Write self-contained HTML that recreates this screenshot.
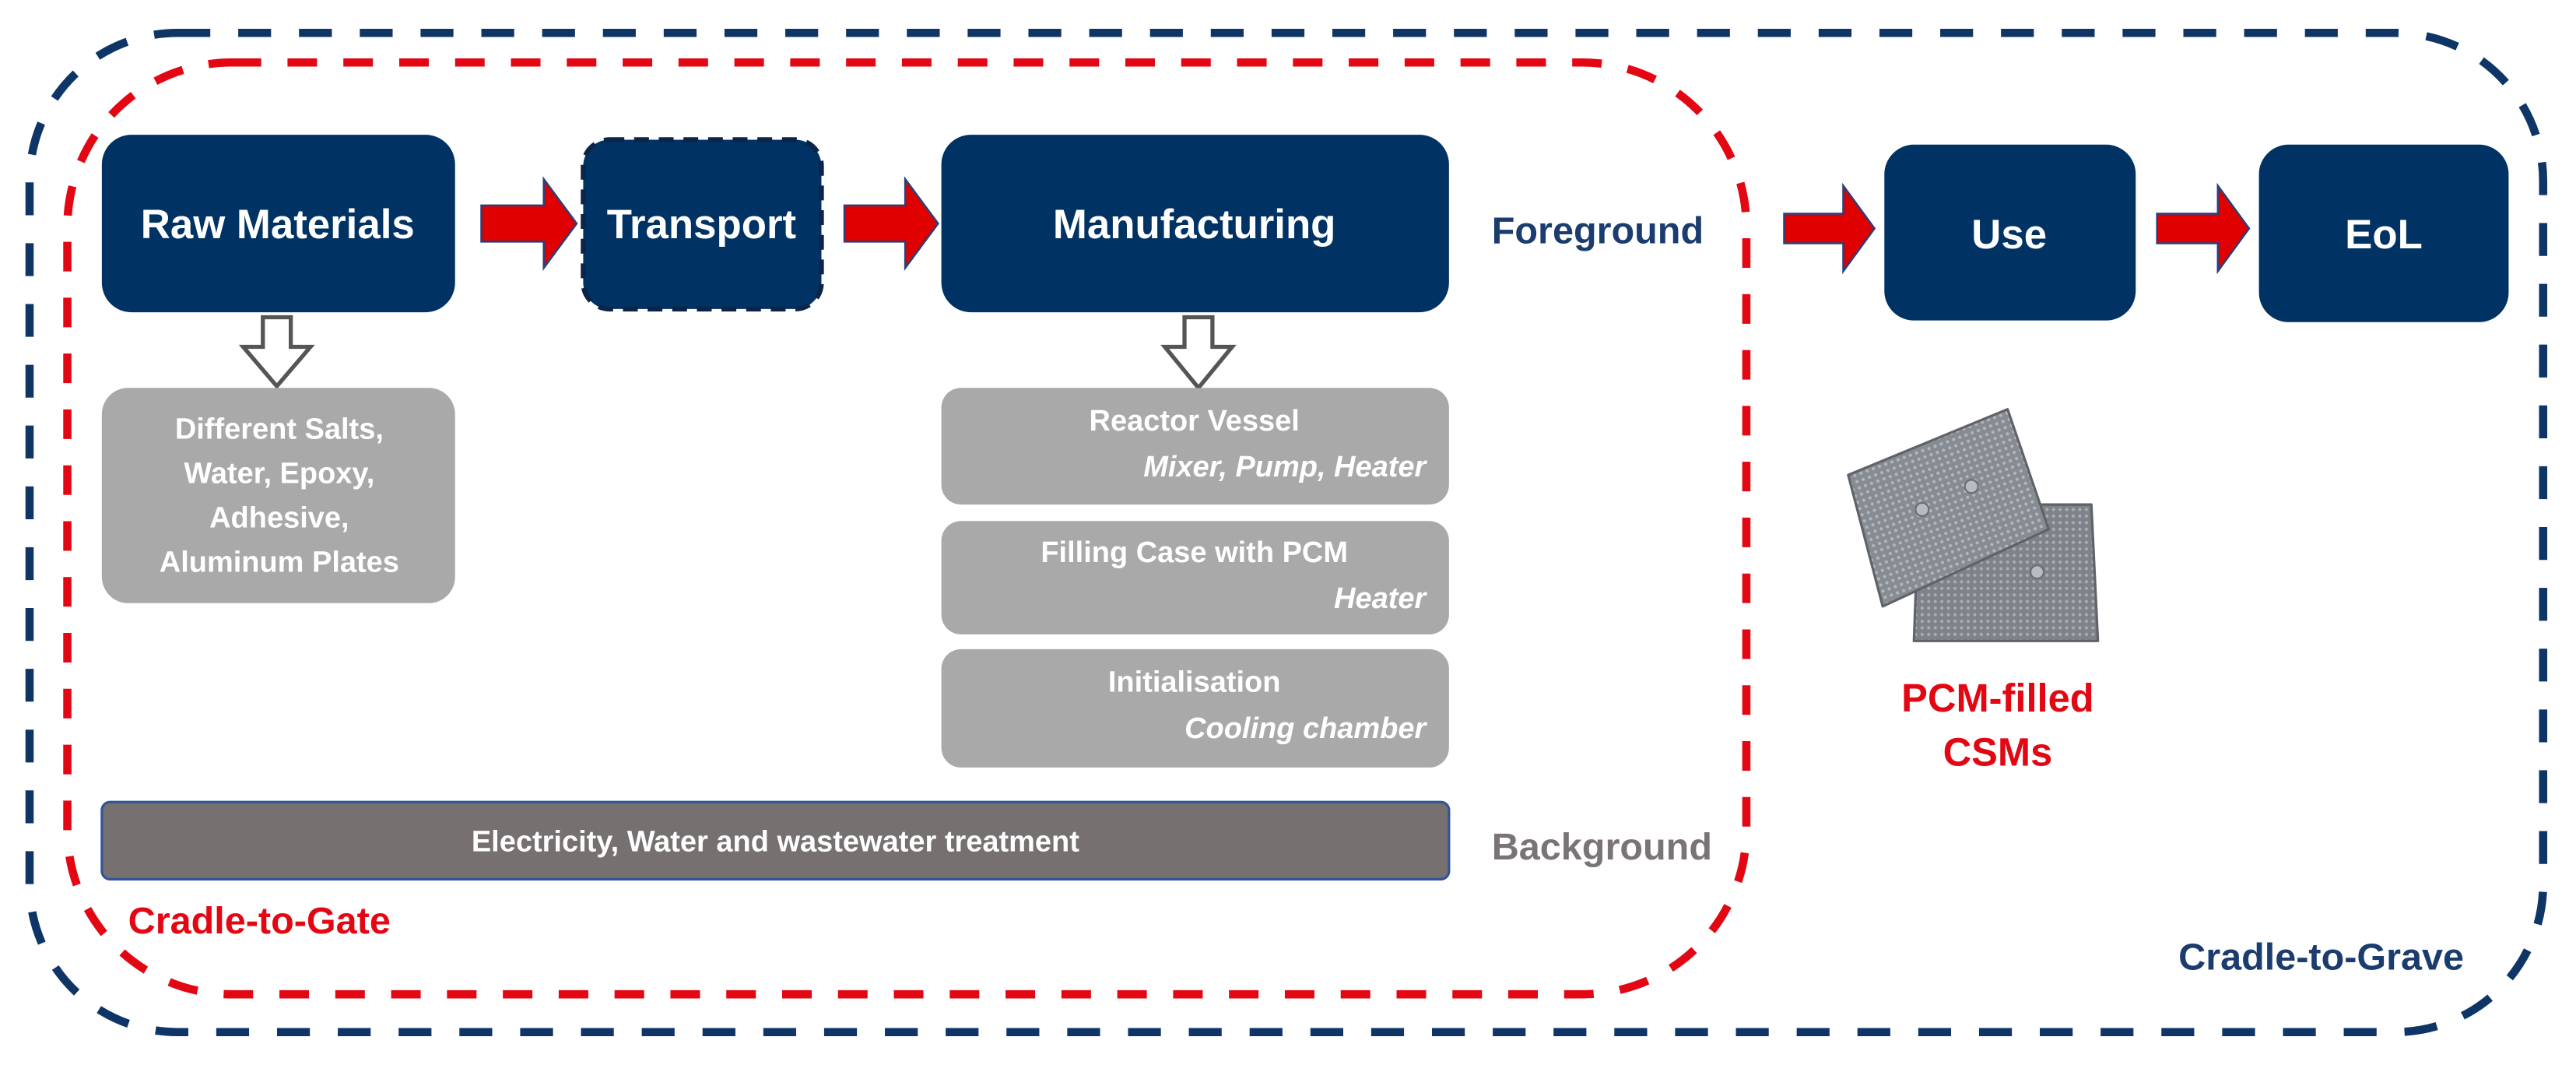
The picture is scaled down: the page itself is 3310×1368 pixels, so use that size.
<!DOCTYPE html>
<html><head><meta charset="utf-8"><style>
html,body{margin:0;padding:0;background:#fff;}
svg{display:block}
text{font-family:"Liberation Sans Narrow","Liberation Sans",sans-serif;font-weight:bold}
</style></head><body>
<svg width="3310" height="1368" viewBox="0 0 1568 648" xmlns="http://www.w3.org/2000/svg">
<defs>
<pattern id="dots" width="4" height="4" patternUnits="userSpaceOnUse" patternTransform="rotate(-20)">
<rect width="4" height="4" fill="#878b92"/>
<circle cx="2" cy="2" r="1" fill="#b3b6bb"/>
</pattern>
<pattern id="dots2" width="4" height="4" patternUnits="userSpaceOnUse">
<rect width="4" height="4" fill="#7e8289"/>
<circle cx="2" cy="2" r="1" fill="#a9acb1"/>
</pattern>
</defs>
<rect x="18" y="20" width="1530" height="608" rx="90" fill="none" stroke="#0e3566" stroke-width="5" stroke-dasharray="20 17"/>
<rect x="41" y="38" width="1022" height="567" rx="100" fill="none" stroke="#e30613" stroke-width="5" stroke-dasharray="18 16"/>

<rect x="62" y="82" width="215" height="108" rx="18" fill="#003363"/>
<text x="169" y="145" font-size="25" fill="#fff" text-anchor="middle">Raw Materials</text>
<rect x="355" y="85" width="145" height="103" rx="16" fill="#003363" stroke="#0b2447" stroke-width="3" stroke-dasharray="9 6"/>
<text x="427" y="145" font-size="25" fill="#fff" text-anchor="middle">Transport</text>
<rect x="573" y="82" width="309" height="108" rx="18" fill="#003363"/>
<text x="727" y="145" font-size="25" fill="#fff" text-anchor="middle">Manufacturing</text>
<rect x="1147" y="88" width="153" height="107" rx="18" fill="#003363"/>
<text x="1223" y="151" font-size="25" fill="#fff" text-anchor="middle">Use</text>
<rect x="1375" y="88" width="152" height="108" rx="18" fill="#003363"/>
<text x="1451" y="151" font-size="25" fill="#fff" text-anchor="middle">EoL</text>

<g fill="#e00000" stroke="#2a3f7a" stroke-width="1.2">
<polygon points="293,125 331,125 331,109 351,136 331,163 331,147 293,147"/>
<polygon points="514,125 551,125 551,109 571,136 551,163 551,147 514,147"/>
<polygon points="1086,130 1122,130 1122,113 1141,139 1122,165 1122,148 1086,148"/>
<polygon points="1313,130 1350,130 1350,113 1369,139 1350,165 1350,148 1313,148"/>
</g>

<text x="908" y="148" font-size="23" fill="#1b3c6e">Foreground</text>
<text x="908" y="523" font-size="23" fill="#7a7574">Background</text>

<g fill="#fff" stroke="#555" stroke-width="2.5">
<polygon points="160,193 177,193 177,211 189,211 168.5,235 148,211 160,211"/>
<polygon points="721,193 738,193 738,211 750,211 729.5,236 709,211 721,211"/>
</g>

<rect x="62" y="236" width="215" height="131" rx="16" fill="#a9a9a9"/>
<g font-size="18" fill="#fff" text-anchor="middle">
<text x="170" y="267">Different Salts,</text>
<text x="170" y="294">Water, Epoxy,</text>
<text x="170" y="321">Adhesive,</text>
<text x="170" y="348">Aluminum Plates</text>
</g>
<rect x="573" y="236" width="309" height="71" rx="12" fill="#a9a9a9"/>
<text x="727" y="262" font-size="18" fill="#fff" text-anchor="middle">Reactor Vessel</text>
<text x="868" y="290" font-size="18" fill="#fff" text-anchor="end" font-style="italic">Mixer, Pump, Heater</text>
<rect x="573" y="317" width="309" height="69" rx="12" fill="#a9a9a9"/>
<text x="727" y="342" font-size="18" fill="#fff" text-anchor="middle">Filling Case with PCM</text>
<text x="868" y="370" font-size="18" fill="#fff" text-anchor="end" font-style="italic">Heater</text>
<rect x="573" y="395" width="309" height="72" rx="12" fill="#a9a9a9"/>
<text x="727" y="421" font-size="18" fill="#fff" text-anchor="middle">Initialisation</text>
<text x="868" y="449" font-size="18" fill="#fff" text-anchor="end" font-style="italic">Cooling chamber</text>

<rect x="62" y="488" width="820" height="47" rx="5" fill="#767070" stroke="#2f5597" stroke-width="1.5"/>
<text x="472" y="518" font-size="18" fill="#fff" text-anchor="middle">Electricity, Water and wastewater treatment</text>

<text x="78" y="568" font-size="23" fill="#e30613">Cradle-to-Gate</text>
<text x="1326" y="590" font-size="23" fill="#1b3c6e">Cradle-to-Grave</text>

<!-- photo -->
<polygon points="1168,307 1273,307 1277,390 1165,390" fill="url(#dots2)" stroke="#5f6268" stroke-width="1.5" stroke-linejoin="round"/>
<circle cx="1240" cy="348" r="4" fill="#b8bbc0" stroke="#6a6d72"/>
<polygon points="1125,289 1222,249 1247,322 1146,369" fill="url(#dots)" stroke="#5f6268" stroke-width="1.5" stroke-linejoin="round"/>
<circle cx="1170" cy="310" r="4" fill="#b8bbc0" stroke="#6a6d72"/>
<circle cx="1200" cy="296" r="4" fill="#b8bbc0" stroke="#6a6d72"/>
<g font-size="24" fill="#e30613" text-anchor="middle">
<text x="1216" y="433">PCM-filled</text>
<text x="1216" y="466">CSMs</text>
</g>
</svg>
</body></html>
